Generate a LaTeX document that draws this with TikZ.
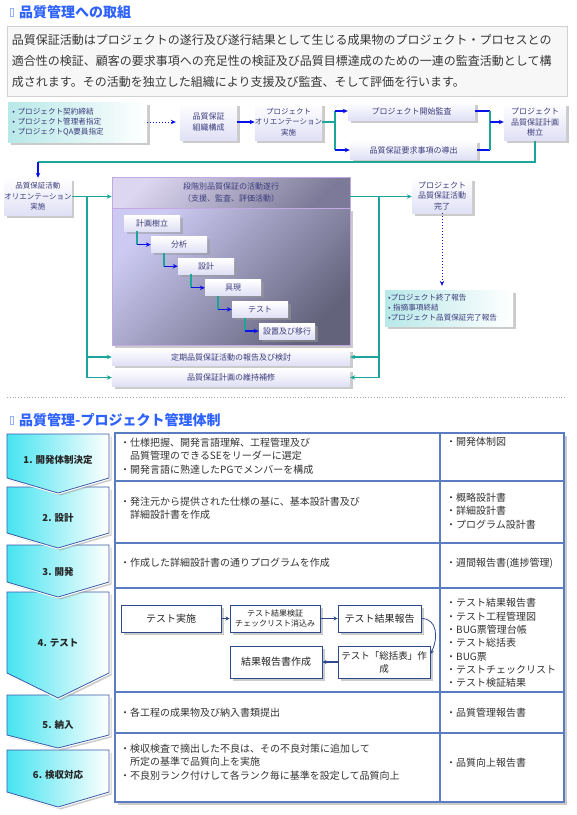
\documentclass[tikz,border=0pt]{standalone}
\usepackage{fontspec}
\setmainfont{Noto Sans CJK JP}
\usetikzlibrary{arrows.meta,shadows}

\definecolor{tealc}{HTML}{1CA69B}
\definecolor{arrblue}{HTML}{0A10E8}
\definecolor{flowtext}{HTML}{3C3C7C}
\definecolor{lav}{HTML}{E0E0F6}
\definecolor{mint}{HTML}{B8E8E8}
\definecolor{tablecol}{HTML}{5C7CC2}
\definecolor{pentcol}{HTML}{3A5AA8}
\definecolor{pentcyan}{HTML}{46E4F0}
\definecolor{titleblue}{HTML}{2E62FF}
\definecolor{bodytext}{HTML}{383838}
\definecolor{stagelight}{HTML}{CCCAF2}
\definecolor{stagedark}{HTML}{64637C}
\definecolor{headlight}{HTML}{DCD6F0}
\definecolor{headdark}{HTML}{7C7A98}
\definecolor{stageedge}{HTML}{C4A8E2}
\definecolor{testcol}{HTML}{2E4A8C}

\newcommand{\flowfont}{\fontsize{8}{10.5}\selectfont}
\newcommand{\tabfont}{\fontsize{10}{13.5}\selectfont}

\begin{document}
\begin{tikzpicture}[x=1pt,y=-1pt,
    boxshadow/.style={drop shadow={shadow xshift=2.5pt,shadow yshift=-2.5pt,fill=black!40}},
    flowbox/.style={boxshadow,top color=white,bottom color=lav,inner sep=0pt,
      align=center,font=\flowfont,text=flowtext},
    mintbox/.style={boxshadow,left color=mint,right color=white,inner sep=0pt,
      align=left,font=\fontsize{7.6}{10}\selectfont,text=flowtext},
    stepbox/.style={flowbox,minimum width=56pt,minimum height=16pt},
    tealline/.style={draw=tealc,line width=1.1pt},
    blueline/.style={draw=arrblue,line width=1.1pt},
    tealarrow/.style={tealline,-{Stealth[length=5pt,width=4.5pt]}},
    bluearrow/.style={blueline,-{Stealth[length=5pt,width=4.5pt]}},
    dotarrow/.style={draw=arrblue,line width=1pt,dotted,-{Stealth[length=5pt,width=4.5pt]}},
    testbox/.style={boxshadow,draw=testcol,line width=0.9pt,fill=white,inner sep=0pt,
      align=center,text=black!85,font=\fontsize{10}{12}\selectfont},
    testarrow/.style={draw=testcol,line width=1.2pt,-{Stealth[length=4pt,width=4pt]}},
    tabline/.style={draw=tablecol,line width=1.2pt},
    tabtext/.style={anchor=west,align=left,font=\tabfont,text=black!80,inner sep=0pt},
    pentshape/.style={boxshadow,preaction={draw=white,line width=3pt},draw=pentcol,
      line width=0.8pt,left color=pentcyan,right color=white},
    heading/.style={anchor=west,inner sep=0pt,text=titleblue,font=\bfseries\fontsize{14}{16}\selectfont}
  ]
    \fill[white] (0,0) rectangle (577,815);
    \useasboundingbox (0,0) rectangle (577,815);

    % --- first section
    \draw[titleblue!50,line width=0.6pt] (10.5,8.5) rectangle (13,16.5);
    \node[heading] (title1) at (19,12) {品質管理への取組};
    \node[draw=black!18,fill=black!3,minimum width=560pt,minimum height=70pt,
        text width=550pt,align=left,inner sep=0pt,text=bodytext,
        font=\fontsize{12}{21}\selectfont] (intro) at (287,61)
        {品質保証活動はプロジェクトの遂行及び遂行結果として生じる成果物のプロジェクト・プロセスとの\\
         適合性の検証、顧客の要求事項への充足性の検証及び品質目標達成のための一連の監査活動として構\\
         成されます。その活動を独立した組織により支援及び監査、そして評価を行います。};

    \node[mintbox,minimum width=139pt,minimum height=40pt,text width=130pt] (contract) at (77.5,122)
        {• プロジェクト契約締結\\• プロジェクト管理者指定\\• プロジェクトQA要員指定};
    \node[flowbox,minimum width=57pt,minimum height=37pt] (org) at (208.5,122) {品質保証\\組織構成};
    \node[flowbox,minimum width=67pt,minimum height=37pt,font=\fontsize{7.5}{10.5}\selectfont] (orient) at (288.5,122)
        {プロジェクト\\オリエンテーション\\実施};
    \node[flowbox,minimum width=127pt,minimum height=18pt] (audit) at (411.5,111) {プロジェクト開始監査};
    \node[flowbox,minimum width=127pt,minimum height=19pt] (derive) at (413.5,150) {品質保証要求事項の導出};
    \node[flowbox,minimum width=62pt,minimum height=37pt] (plan) at (535,122) {プロジェクト\\品質保証計画\\樹立};

    \draw[dotarrow,shorten >=4pt] (contract.east) -- (org.west);
    \draw[bluearrow] (org.east) -- (orient.west);
    \coordinate (split) at (335,122);
    \draw[tealline] (orient.east) -- (split);
    \draw[tealline] (audit.west -| split) -- (derive.west -| split);
    \draw[bluearrow] (audit.west -| split) -- (audit.west);
    \draw[bluearrow] (derive.west -| split) -- (derive.west);
    \coordinate (merge) at (490,122);
    \draw[blueline] (audit.east) -- (audit.east -| merge);
    \draw[blueline] (derive.east) -- (derive.east -| merge);
    \draw[tealline] (audit.east -| merge) -- (derive.east -| merge);
    \draw[bluearrow] (merge) -- (plan.west);

    \node[flowbox,minimum width=60pt,minimum height=37pt,font=\fontsize{7.5}{10.5}\selectfont] (orient2) at (38,196.5)
        {品質保証活動\\オリエンテーション\\実施};
    \coordinate (down) at (38,162);
    \draw[tealline] (plan.south) |- (down);
    \draw[bluearrow] (down) -- (orient2.north);

    % --- stage block
    \node[boxshadow,draw=stageedge,line width=0.6pt,top color=stagelight,bottom color=stagedark,
        shading angle=45,minimum width=238pt,minimum height=137pt] (stagebody) at (231,276.5) {};
    \node[draw=stageedge,line width=0.6pt,top color=headlight,bottom color=headdark,shading angle=45,
        minimum width=238pt,minimum height=31pt,align=center,font=\fontsize{8}{12}\selectfont,
        text=flowtext] (stagehead) at (231,192.5) {段階別品質保証の活動遂行\\（支援、監査、評価活動）};

    \foreach \name [count=\i from 0] in {計画樹立,分析,設計,具現,テスト,設置及び移行}
        \node[stepbox] (s\i) at ({152+27*\i},{223+21.6*\i}) {\name};
    \foreach \i [count=\j from 1] in {0,...,4} {
        \draw[tealline] ([xshift=-15pt]s\i.south) |- ([xshift=-14pt]s\j.west);
        \draw[bluearrow] ([xshift=-14pt]s\j.west) -- (s\j.west);
    }

    \node[flowbox,minimum width=238pt,minimum height=16pt] (report) at (231,357) {定期品質保証活動の報告及び検討};
    \node[flowbox,minimum width=238pt,minimum height=17pt] (upkeep) at (231,377.5) {品質保証計画の維持補修};

    \node[flowbox,minimum width=60pt,minimum height=35pt] (done) at (442,195.5) {プロジェクト\\品質保証活動\\完了};
    \node[mintbox,minimum width=128pt,minimum height=36pt,text width=122pt] (closeout) at (449,308)
        {•プロジェクト終了報告\\• 指摘事項終結\\•プロジェクト品質保証完了報告};

    \draw[tealarrow] (orient2.east) -- (orient2.east -| stagehead.west);
    \coordinate (lbus) at (87,196.5);
    \draw[tealarrow] (lbus) |- (upkeep.west);
    \draw[tealarrow] (lbus |- report.west) -- (report.west);
    \draw[tealarrow] (orient2.east -| stagehead.east) -- (orient2.east -| done.west);
    \coordinate (rbus) at (379,196.5);
    \draw[tealarrow] (rbus) |- (upkeep.east);
    \draw[tealarrow] (rbus |- report.east) -- (report.east);
    \draw[dotarrow,shorten >=4pt] (done.south) -- (done.south |- closeout.north);

    % --- second section
    \draw[black!35,dotted,line width=0.8pt] (7,397) -- (567,397);
    \draw[titleblue!50,line width=0.6pt] (10.5,416) rectangle (13,424);
    \node[heading] (title2) at (19,420) {品質管理-プロジェクト管理体制};

    \draw[tabline,fill=white,boxshadow] (115,433) rectangle (564,802);
    \draw[tabline] (440,433) -- (440,802);
    \foreach \y in {481,543,588,692,733}
        \draw[tabline] (115,\y) -- (564,\y);

    \foreach \n/\t/\s/\p/\ly/\txt in {6/750/792/807/775/検収対応,5/695/735/748/725/納入,
            4/592/673/698/643/テスト,3/545/582/597/572/開発,2/487/533/548/518/設計,1/434/478/493/460/開発体制決定} {
        \draw[pentshape] (7,\t) -- (109,\t) -- (109,\s) -- (58,\p) -- (7,\s) -- cycle;
        \node[font=\bfseries\fontsize{9.5}{11}\selectfont,text=black!85] (phase\n) at (58,\ly) {\n. \txt};
    }

    \node[tabtext] (task1) at (120,456) {・仕様把握、開発言語理解、工程管理及び\\　品質管理のできるSEをリーダーに選定\\・開発言語に熟達したPGでメンバーを構成};
    \node[tabtext] (task2) at (120,508) {・発注元から提供された仕様の基に、基本設計書及び\\　詳細設計書を作成};
    \node[tabtext] (task3) at (120,563) {・作成した詳細設計書の通りプログラムを作成};
    \node[tabtext] (task5) at (120,713) {・各工程の成果物及び納入書類提出};
    \node[tabtext] (task6) at (120,762) {・検収検査で摘出した不良は、その不良対策に追加して\\　所定の基準で品質向上を実施\\・不良別ランク付けして各ランク毎に基準を設定して品質向上};

    \node[tabtext] (doc1) at (446,442) {・開発体制図};
    \node[tabtext] (doc2) at (446,511) {・概略設計書\\・詳細設計書\\・プログラム設計書};
    \node[tabtext] (doc3) at (446,563) {・週間報告書(進捗管理)};
    \node[tabtext,font=\fontsize{10}{13.3}\selectfont] (doc4) at (446,643)
        {・テスト結果報告書\\・テスト工程管理図\\・BUG票管理台帳\\・テスト総括表\\・BUG票\\・テストチェックリスト\\・テスト検証結果};
    \node[tabtext] (doc5) at (446,713) {・品質管理報告書};
    \node[tabtext] (doc6) at (446,763) {・品質向上報告書};

    % --- test flow
    \node[testbox,minimum width=100pt,minimum height=27pt] (run) at (171,618.5) {テスト実施};
    \node[testbox,minimum width=90pt,minimum height=27pt,font=\fontsize{8}{10}\selectfont] (verify) at (275,618.5)
        {テスト結果検証\\チェックリスト消込み};
    \node[testbox,minimum width=83pt,minimum height=27pt] (result) at (379.5,618.5) {テスト結果報告};
    \node[testbox,minimum width=92pt,minimum height=32pt,font=\fontsize{9.5}{13}\selectfont] (summary) at (384,662)
        {テスト「総括表」作\\成};
    \node[testbox,minimum width=92pt,minimum height=32pt] (final) at (276,662) {結果報告書作成};

    \draw[testarrow] (run) -- (verify);
    \draw[testarrow] (verify) -- (result);
    \draw[testarrow,line width=0.8pt] (result.east) .. controls +(16,0) and +(8,-16) .. ([yshift=8pt]summary.east);
    \draw[testarrow] (summary) -- (final);
\end{tikzpicture}
\end{document}
